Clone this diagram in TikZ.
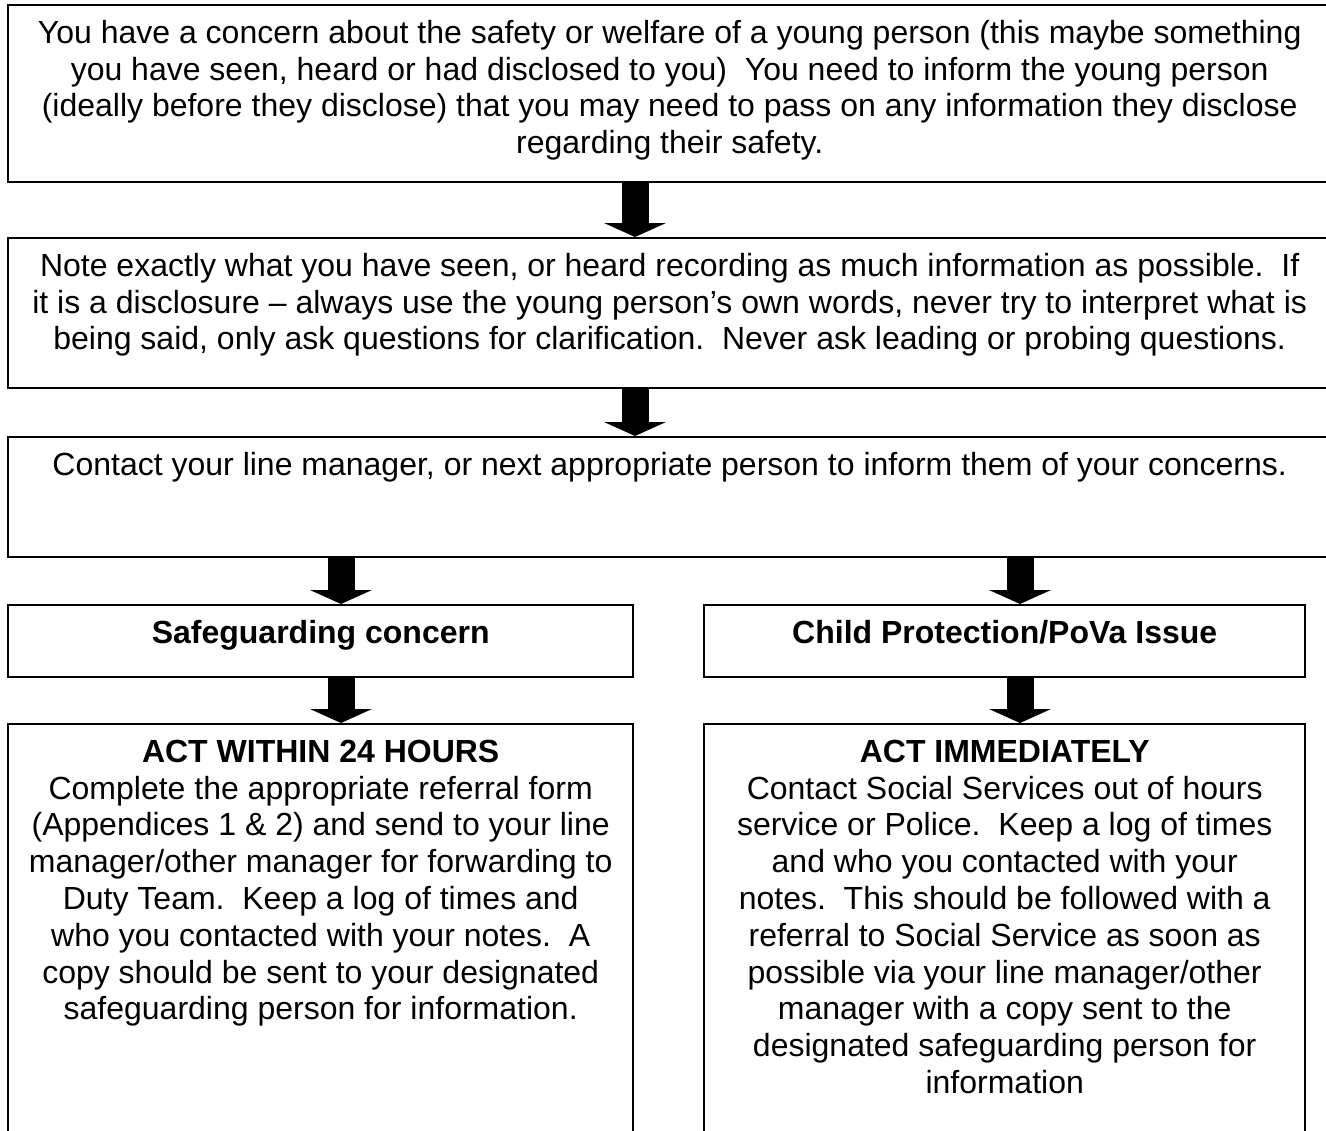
\documentclass[tikz,border=0pt]{standalone}
\usepackage{fontspec}
\setmainfont{Liberation Sans}
\usetikzlibrary{arrows.meta}
\frenchspacing

% text of a box, first baseline 19pt below the top edge
\newcommand{\boxtext}[3]{\parbox[t][#2][t]{#1}{\centering\rule{0pt}{19pt}#3}}

\tikzset{
  flowbox/.style={draw, line width=1.2pt, inner sep=0pt, anchor=north west,
    font=\fontsize{16pt}{18.4pt}\selectfont},
  flowarrow/.style={line width=13.5pt,
    -{Triangle[width=31pt, length=7pt, line width=0pt]}},
}

\begin{document}
\begin{tikzpicture}[x=0.5pt, y=-0.5pt]
  \useasboundingbox (0,0) rectangle (1326,1130);
  % columns of the arrows
  \coordinate (midcol) at (635,0);
  \coordinate (leftcol) at (341,0);
  \coordinate (rightcol) at (1020,0);

  \node[flowbox] (concern) at (7,4) {\boxtext{661.5pt}{88.5pt}{%
    You have a concern about the safety or welfare of a young person (this maybe something\\
    you have seen, heard or had disclosed to you)\ \ You need to inform the young person\\
    (ideally before they disclose) that you may need to pass on any information they disclose\\
    regarding their safety.}};
  \node[flowbox] (note) at (7,237) {\boxtext{661.5pt}{75pt}{%
    Note exactly what you have seen, or heard recording as much information as possible.\ \ If\\
    it is a disclosure – always use the young person’s own words, never try to interpret what is\\
    being said, only ask questions for clarification.\ \ Never ask leading or probing questions.}};
  \node[flowbox] (contact) at (7,436) {\boxtext{661.5pt}{60pt}{%
    Contact your line manager, or next appropriate person to inform them of your concerns.}};

  \node[flowbox] (safeguard) at (7,604) {\boxtext{312.5pt}{36pt}{%
    \textbf{Safeguarding concern}}};
  \node[flowbox] (childprot) at (703,604) {\boxtext{300.5pt}{36pt}{%
    \textbf{Child Protection/PoVa Issue}}};

  \node[flowbox] (within) at (7,723) {\boxtext{312.5pt}{220pt}{%
    \textbf{ACT WITHIN 24 HOURS}\\
    Complete the appropriate referral form\\
    (Appendices 1 \& 2) and send to your line\\
    manager/other manager for forwarding to\\
    Duty Team.\ \ Keep a log of times and\\
    who you contacted with your notes.\ \ A\\
    copy should be sent to your designated\\
    safeguarding person for information.}};
  \node[flowbox] (immediate) at (703,723) {\boxtext{300.5pt}{220pt}{%
    \textbf{ACT IMMEDIATELY}\\
    Contact Social Services out of hours\\
    service or Police.\ \ Keep a log of times\\
    and who you contacted with your\\
    notes.\ \ This should be followed with a\\
    referral to Social Service as soon as\\
    possible via your line manager/other\\
    manager with a copy sent to the\\
    designated safeguarding person for\\
    information}};

  \draw[flowarrow] (concern.south -| midcol) -- (note.north -| midcol);
  \draw[flowarrow] (note.south -| midcol) -- (contact.north -| midcol);
  \draw[flowarrow] (contact.south -| leftcol) -- (safeguard.north -| leftcol);
  \draw[flowarrow] (contact.south -| rightcol) -- (childprot.north -| rightcol);
  \draw[flowarrow] (safeguard.south -| leftcol) -- (within.north -| leftcol);
  \draw[flowarrow] (childprot.south -| rightcol) -- (immediate.north -| rightcol);
\end{tikzpicture}
\end{document}
